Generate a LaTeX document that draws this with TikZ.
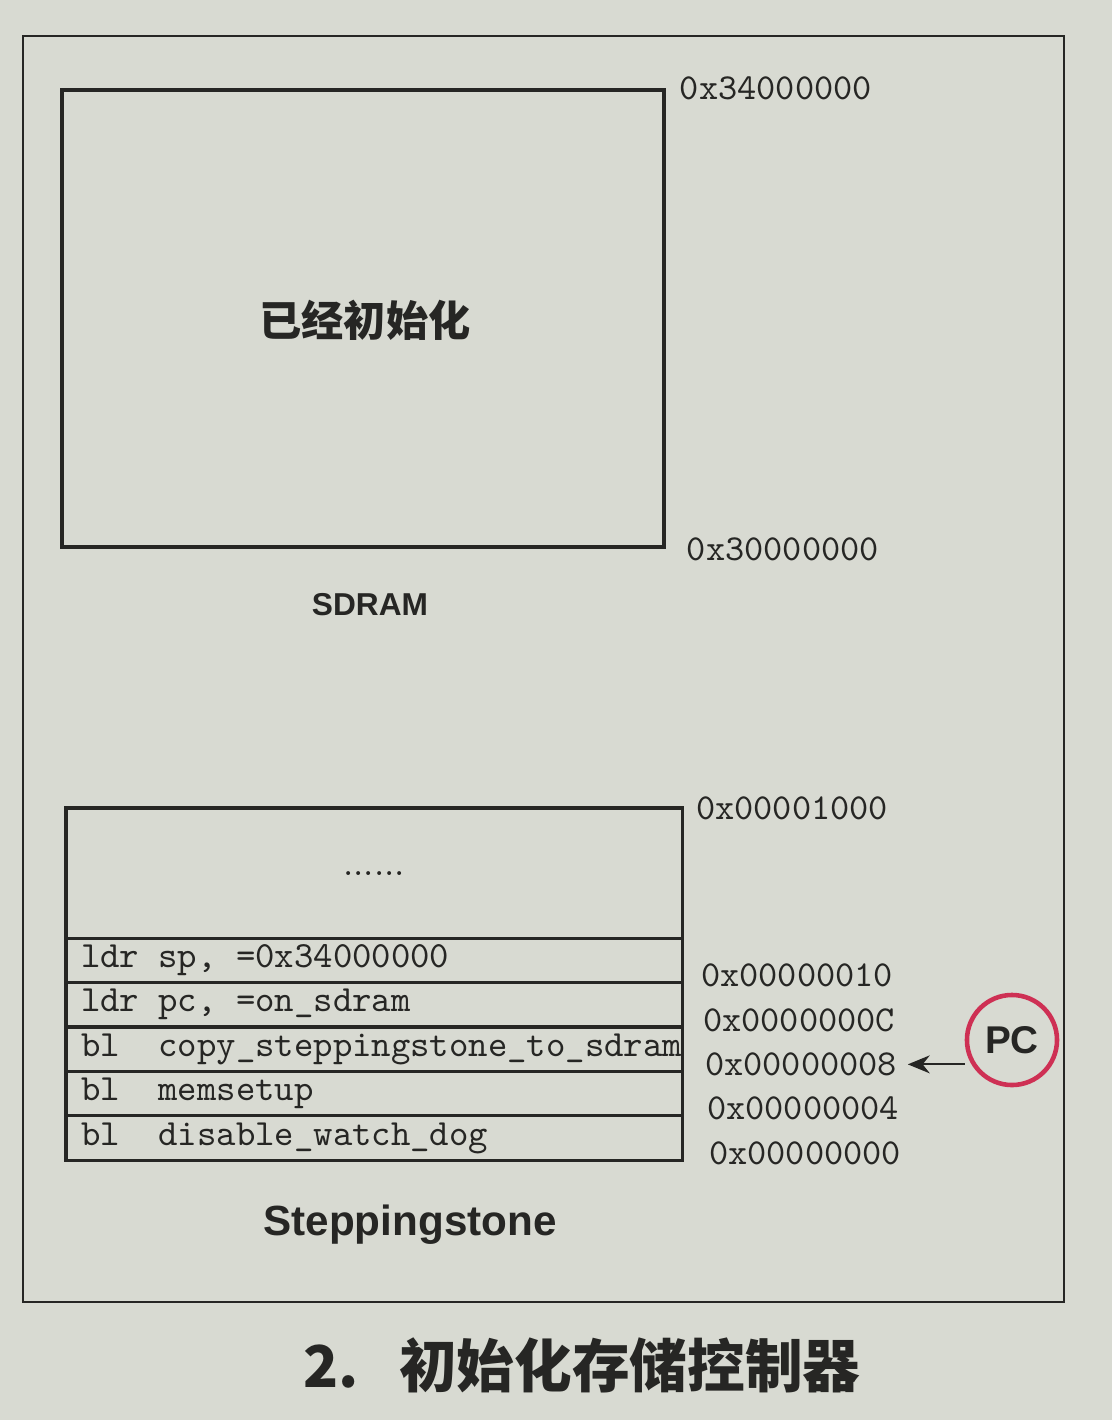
\documentclass[tikz,border=0pt]{standalone}
\usepackage{fontspec}
\setsansfont{Liberation Sans}
\newfontfamily\cjk{Noto Sans CJK SC}
\usetikzlibrary{arrows.meta, positioning, calc}
\definecolor{paper}{RGB}{216,218,210}
\definecolor{ink}{RGB}{38,38,36}
\definecolor{pcred}{RGB}{206,48,84}
\newcommand{\codeline}[1]{\makebox[5.86cm][l]{#1}}

\begin{document}
\begin{tikzpicture}[
    x=0.01cm, y=-0.01cm,
    frame/.style={draw=ink, line width=0.7pt, inner sep=0pt},
    membox/.style={draw=ink, line width=1.1pt, inner sep=0pt},
    cell/.style={draw=ink, line width=0.9pt, outer sep=0pt, minimum width=6.16cm, minimum height=#1,
        inner xsep=0.15cm, inner ysep=0pt,
        font=\ttfamily\fontsize{10.5}{12}\selectfont, text=ink},
    addr/.style={font=\ttfamily\fontsize{10.4}{12}\selectfont, text=ink, inner sep=0pt},
    title/.style={font=\sffamily\bfseries\fontsize{#1}{#1}\selectfont, text=ink},
    pcmark/.style={circle, draw=pcred, line width=1.3pt, minimum size=0.9cm, inner sep=0pt,
        font=\sffamily\bfseries\fontsize{11}{12}\selectfont, text=ink},
    arr/.style={-{Stealth[length=2.2mm, width=1.8mm]}, ink, line width=0.5pt}
]
\fill[paper] (0,0) rectangle (1112,1420);
\useasboundingbox (0,0) rectangle (1112,1420);

% page frame
\node[frame, minimum width=10.4cm, minimum height=12.65cm, anchor=north west] (page) at (22,35) {};

% SDRAM
\node[membox, minimum width=6.02cm, minimum height=4.57cm, anchor=north west] (sdram) at (60,88) {};
\node[font=\cjk\bfseries\fontsize{12}{14}\selectfont, text=ink] (inited) at (365,320) {已经初始化};
\node[addr, anchor=west, right=0.13cm of sdram.north east] (top) {0x34000000};
\node[addr, anchor=west, right=0.2cm of sdram.south east] (base) {0x30000000};
\node[title=9] (sdramlbl) at (370,605) {SDRAM};

% Steppingstone
\node[cell=1.3cm, anchor=north west] (dots) at (66,808) {\rmfamily......};
\node[cell=0.444cm, below=0pt of dots] (r4) {\codeline{ldr sp, =0x34000000}};
\node[cell=0.444cm, below=0pt of r4] (r3) {\codeline{ldr pc, =on\_sdram}};
\node[cell=0.444cm, below=0pt of r3] (r2) {\codeline{bl\ \ copy\_steppingstone\_to\_sdram}};
\node[cell=0.444cm, below=0pt of r2] (r1) {\codeline{bl\ \ memsetup}};
\node[cell=0.444cm, below=0pt of r1] (r0) {\codeline{bl\ \ disable\_watch\_dog}};

\node[addr, anchor=west, right=0.13cm of dots.north east] (a4k) {0x00001000};
\node[addr, anchor=west, right=0.18cm of r4.south east, yshift=0.07cm] (a10) {0x00000010};
\node[addr, anchor=west, right=0.2cm of r3.south east, yshift=0.07cm] (a0c) {0x0000000C};
\node[addr, anchor=west, right=0.22cm of r2.south east, yshift=0.07cm] (a08) {0x00000008};
\node[addr, anchor=west, right=0.24cm of r1.south east, yshift=0.07cm] (a04) {0x00000004};
\node[addr, anchor=west, right=0.26cm of r0.south east, yshift=0.07cm] (a00) {0x00000000};
\node[title=12] (stonelbl) at (410,1225) {Steppingstone};

% PC pointer
\node[pcmark] (pc) at (1012,1040) {PC};
\draw[arr] (pc.west |- a08.east) -- ([xshift=0.1cm]a08.east);

% caption
\node[font=\cjk\bfseries\fontsize{16.4}{18}\selectfont, text=ink] (caption) at (582,1365) {2.\hspace{0.7em}初始化存储控制器};
\end{tikzpicture}
\end{document}
